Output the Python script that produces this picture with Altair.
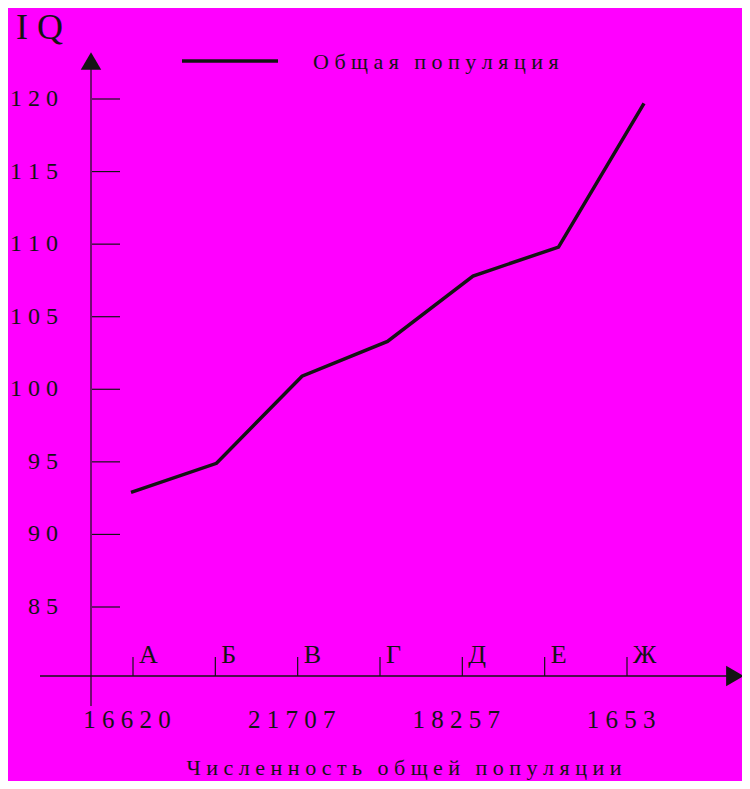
import altair as alt
import pandas as pd

# ---- data ----
categories = ["А", "Б", "В", "Г", "Д", "Е", "Ж"]
iq_values = [92.9, 94.9, 100.9, 103.3, 107.8, 109.8, 119.7]
y_ticks = [85, 90, 95, 100, 105, 110, 115, 120]
y_tick_labels = ["8 5", "9 0", "9 5", "1 0 0", "1 0 5", "1 1 0", "1 1 5", "1 2 0"]
pop_categories = ["А", "В", "Д", "Ж"]
pop_labels = ["1 6 6 2 0", "2 1 7 0 7", "1 8 2 5 7", "1 6 5 3"]
legend_label = "О б щ а я\u2002\u2009п о п у л я ц и я"
x_title = "Ч и с л е н н о с т ь\u2002\u2009о б щ е й\u2002\u2009п о п у л я ц и и"
y_title = "I Q"

FONT = "Liberation Serif"
INK = "#141414"
BG = "#ff00ff"

line_df = pd.DataFrame({"cat": categories, "value": iq_values})
cat_df = pd.DataFrame({"cat": categories})
ytick_df = pd.DataFrame({"value": y_ticks, "label": y_tick_labels})
pop_df = pd.DataFrame({"cat": pop_categories, "label": pop_labels})
one = pd.DataFrame({"t": [""]})

yscale = alt.Scale(domain=[85, 120], range=[599, 91], nice=False, zero=False)
x_cat = alt.X("cat:N", sort=categories, axis=None,
              scale=alt.Scale(type="point", domain=categories, range=[125, 619], padding=0))
x_line = alt.X("cat:N", sort=categories, axis=None,
               scale=alt.Scale(type="point", domain=categories, range=[123, 636], padding=0))

line = alt.Chart(line_df).mark_line(color=INK, strokeWidth=3.5, strokeJoin="miter").encode(
    x=x_line, y=alt.Y("value:Q", scale=yscale, axis=None)
)

# axes drawn by hand
y_axis = alt.Chart(one).mark_rule(color=INK, strokeWidth=1.2).encode(
    x=alt.value(83), y=alt.value(60), y2=alt.value(698)
)
x_axis = alt.Chart(one).mark_rule(color=INK, strokeWidth=1.4).encode(
    x=alt.value(32), x2=alt.value(720), y=alt.value(668)
)
up_arrow = alt.Chart(one).mark_point(shape="triangle-up", filled=True, color=INK, opacity=1, size=420).encode(
    x=alt.value(83), y=alt.value(53)
)
right_arrow = alt.Chart(one).mark_point(shape="triangle-right", filled=True, color=INK, opacity=1, size=420).encode(
    x=alt.value(727), y=alt.value(668)
)

y_tick_rules = alt.Chart(ytick_df).mark_rule(color=INK, strokeWidth=1.2).encode(
    x=alt.value(84), x2=alt.value(112), y=alt.Y("value:Q", scale=yscale, axis=None)
)
y_tick_text = alt.Chart(ytick_df).mark_text(
    align="right", baseline="middle", font=FONT, fontSize=24, color=INK
).encode(x=alt.value(50), y=alt.Y("value:Q", scale=yscale, axis=None), text="label:N")

x_tick_rules = alt.Chart(cat_df).mark_rule(color=INK, strokeWidth=1.2).encode(
    x=x_cat, y=alt.value(649), y2=alt.value(668)
)
x_tick_text = alt.Chart(cat_df).mark_text(
    align="left", baseline="middle", dx=6, font=FONT, fontSize=26, color=INK
).encode(x=x_cat, y=alt.value(647), text="cat:N")

pop_text = alt.Chart(pop_df).mark_text(
    align="center", baseline="middle", dx=-6, font=FONT, fontSize=25, color=INK
).encode(x=x_cat, y=alt.value(712), text="label:N")

legend_line = alt.Chart(one).mark_rule(color=INK, strokeWidth=3.5).encode(
    x=alt.value(174), x2=alt.value(270), y=alt.value(53)
)
legend_text = alt.Chart(pd.DataFrame({"t": [legend_label]})).mark_text(
    align="left", baseline="middle", font=FONT, fontSize=22, color=INK
).encode(x=alt.value(305), y=alt.value(54), text="t:N")

title_text = alt.Chart(pd.DataFrame({"t": [x_title]})).mark_text(
    align="center", baseline="middle", font=FONT, fontSize=22, color=INK
).encode(x=alt.value(396), y=alt.value(760), text="t:N")

iq_text = alt.Chart(pd.DataFrame({"t": [y_title]})).mark_text(
    align="left", baseline="alphabetic", font=FONT, fontSize=36, color=INK
).encode(x=alt.value(8), y=alt.value(31), text="t:N")

chart = alt.layer(
    y_axis, x_axis, up_arrow, right_arrow,
    y_tick_rules, y_tick_text, x_tick_rules, x_tick_text, pop_text,
    legend_line, legend_text, title_text, iq_text, line,
).resolve_scale(x="independent").properties(
    width=734, height=773, autosize="none", padding=0, background=BG
).configure_view(stroke=None)

chart.save("out.html", embed_options={"renderer": "svg", "actions": False})
